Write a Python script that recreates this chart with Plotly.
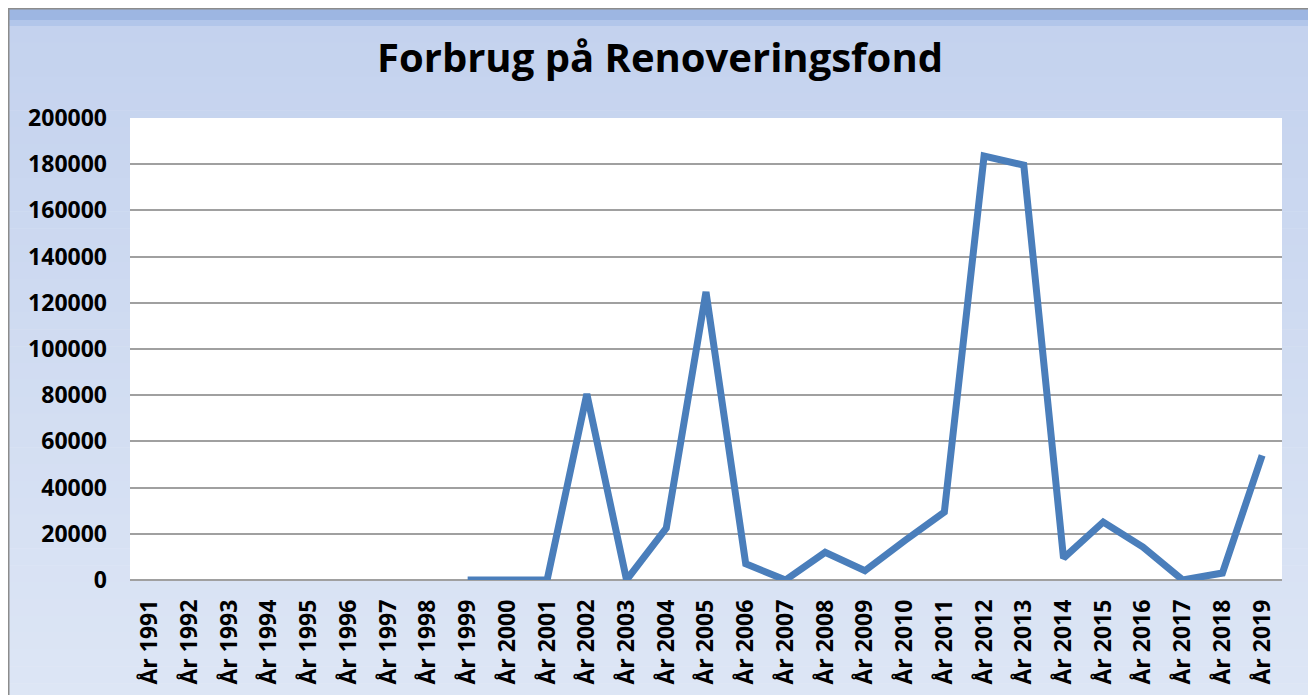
import plotly.graph_objects as go

years = [f"År {y}" for y in range(1991, 2020)]
values = [None, None, None, None, None, None, None, None,
          0, 0, 0, 80500, 0, 22500, 124700, 7000, 0, 12000, 4000, 17000,
          29400, 183500, 179600, 9500, 25100, 14300, 0, 3000, 54000]
y_ticks = list(range(0, 200001, 20000))

OFF = 8  # page body margin
W, H = 1316 - OFF, 695 - OFF
L, T = 130 - OFF, 118 - OFF
pw, ph = 1152, 462
R = W - L - pw
B = H - T - ph

def px(x):
    return (x - OFF - L) / pw

def py(y):
    return (H - B - (y - OFF)) / ph

fig = go.Figure()
fig.add_trace(go.Scatter(
    x=years, y=values, mode="lines",
    line=dict(color="#4a7ebb", width=7),
    connectgaps=False, showlegend=False, hoverinfo="x+y"))

shapes = []
top_c = (0xc4, 0xd2, 0xee)
bot_c = (0xdd, 0xe6, 0xf5)
y0, y1 = 26, 700
n = 40
for i in range(n):
    a = y0 + (y1 - y0) * i / n
    b = y0 + (y1 - y0) * (i + 1) / n
    t = i / (n - 1)
    c = tuple(round(top_c[k] + (bot_c[k] - top_c[k]) * t) for k in range(3))
    shapes.append(dict(type="rect", xref="paper", yref="paper", layer="below",
                       x0=px(7), x1=px(1311), y0=py(b + 0.5), y1=py(a),
                       fillcolor="rgb(%d,%d,%d)" % c, line=dict(width=0)))
shapes.append(dict(type="rect", xref="paper", yref="paper", layer="below",
                   x0=px(7), x1=px(1311), y0=py(20), y1=py(7),
                   fillcolor="#9db6e2", line=dict(width=0)))
shapes.append(dict(type="rect", xref="paper", yref="paper", layer="below",
                   x0=px(7), x1=px(1311), y0=py(26), y1=py(20),
                   fillcolor="#b2c6ea", line=dict(width=0)))
shapes.append(dict(type="rect", xref="paper", yref="paper", layer="below",
                   x0=0, x1=1, y0=0, y1=1, fillcolor="white", line=dict(width=0)))
shapes.append(dict(type="rect", xref="paper", yref="paper", layer="above",
                   x0=px(8.5), x1=px(1311), y0=py(705), y1=py(8.5),
                   line=dict(color="#8c8c8c", width=2), fillcolor="rgba(0,0,0,0)"))

fig.update_layout(
    width=W, height=H,
    margin=dict(l=L, r=R, t=T, b=B, autoexpand=False),
    paper_bgcolor="white",
    plot_bgcolor="rgba(0,0,0,0)",
    shapes=shapes,
    title=dict(text="<b>Forbrug på Renoveringsfond</b>", x=(660 - OFF) / W, xref="container",
               xanchor="center", y=1 - (58 - OFF) / H, yref="container", yanchor="middle",
               font=dict(family="Open Sans", size=40, color="black")),
    font=dict(family="Open Sans", color="black"),
    xaxis=dict(type="category", tickangle=-90, showgrid=False, showline=False,
               ticks="", ticklabelstandoff=14, automargin=False,
               tickfont=dict(size=23, family="Open Sans", weight="bold"),
               range=[-0.5, len(years) - 0.5], fixedrange=True),
    yaxis=dict(range=[0, 200000], tickvals=y_ticks, tickformat="d", showgrid=True,
               gridcolor="#a0a0a0", gridwidth=2, zeroline=True,
               zerolinecolor="#a0a0a0", zerolinewidth=2, showline=False,
               ticklabelstandoff=22, automargin=False,
               tickfont=dict(size=23, family="Open Sans", weight="bold"),
               ticks="", fixedrange=True),
)

fig.write_html("out.html")
